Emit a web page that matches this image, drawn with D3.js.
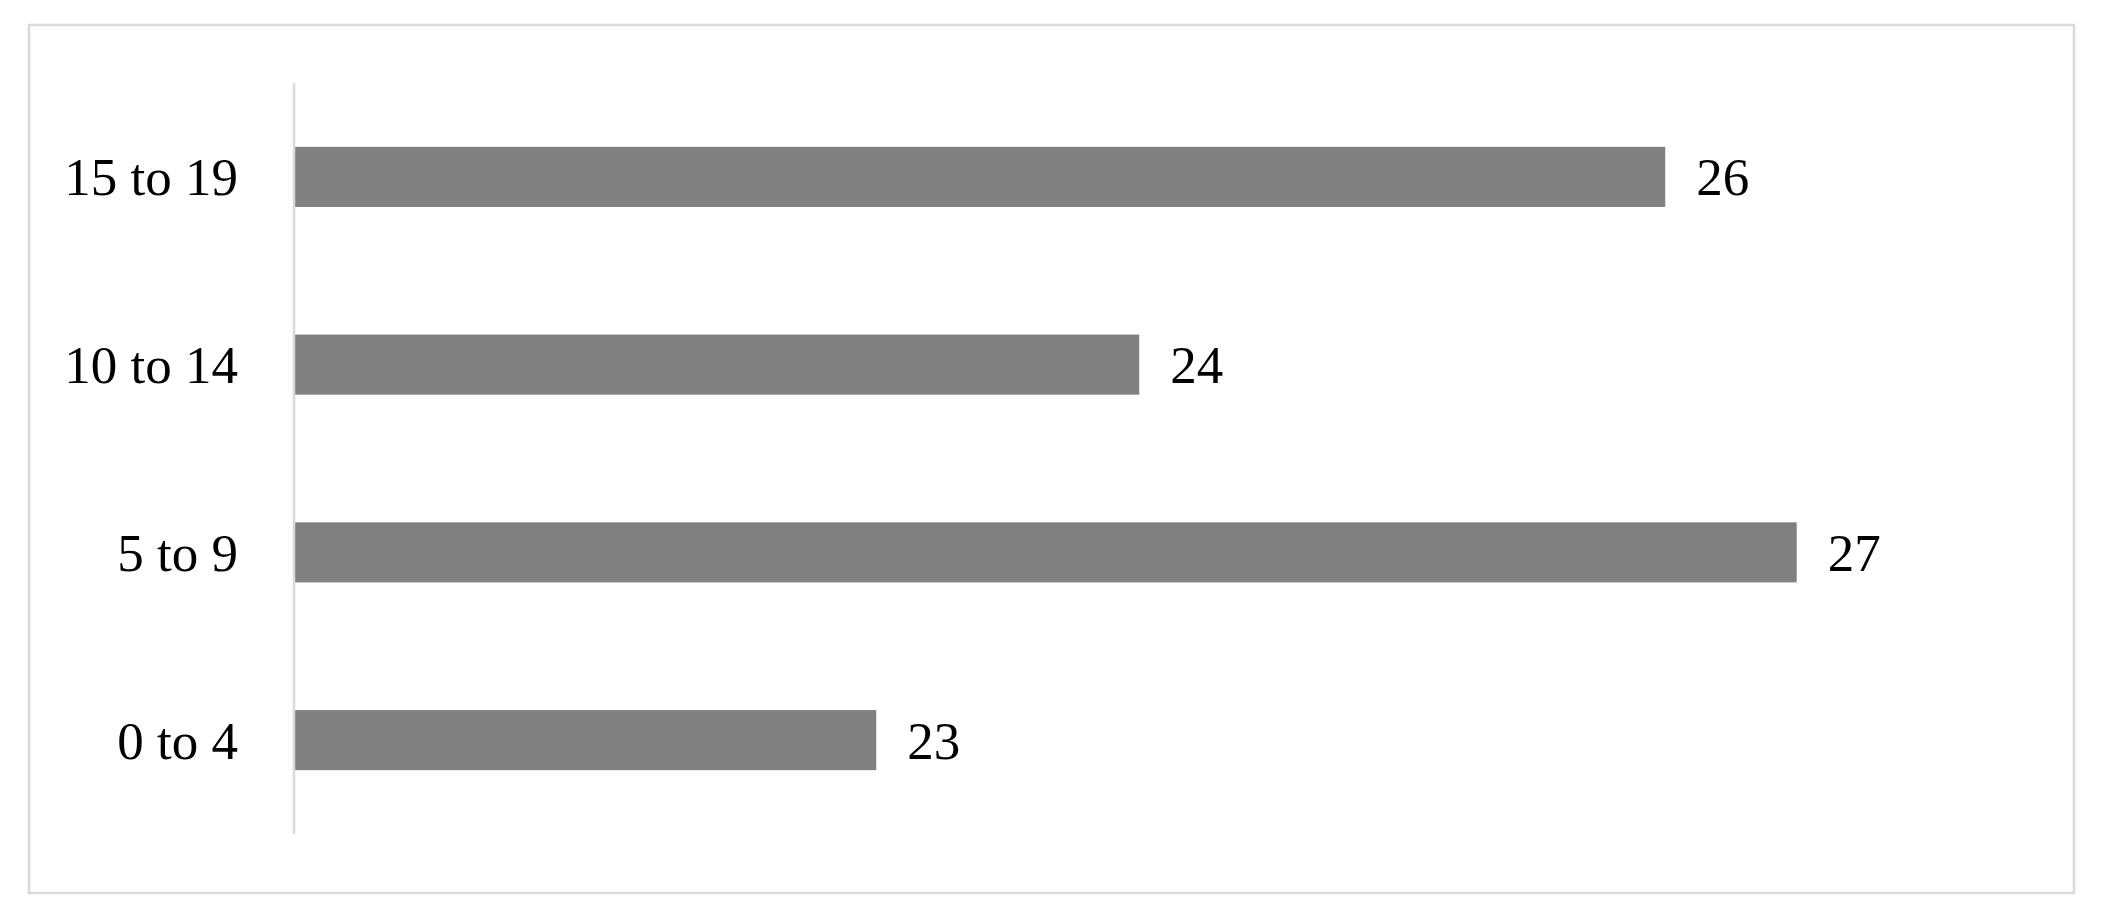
<!DOCTYPE html>
<html>
<head>
<meta charset="utf-8">
<script src="https://cdn.jsdelivr.net/npm/d3@7"></script>
<style>
  html, body { margin: 0; padding: 0; background: #fff; }
  svg { display: block; }
</style>
</head>
<body>
<svg id="chart" width="2105" height="922"></svg>
<script>
// Data (bottom to top order in the picture is 0 to 4 ... 15 to 19)
const categories = ["0 to 4", "5 to 9", "10 to 14", "15 to 19"];
const values = [23.0, 26.5, 24.0, 26.0];
const valueLabels = ["23", "27", "24", "26"];

const svg = d3.select("#chart");

// outer frame
svg.append("rect")
  .attr("x", 29).attr("y", 25)
  .attr("width", 2045).attr("height", 868)
  .attr("fill", "#fff")
  .attr("stroke", "#d9d9d9")
  .attr("stroke-width", 2.5);

const plot = { left: 295, top: 83, bottom: 834 };

const x = d3.scaleLinear()
  .domain([20.79, 26.79])
  .range([plot.left, plot.left + 6 * 263]);

// categories top to bottom: reversed order
const y = d3.scaleBand()
  .domain(categories.slice().reverse())
  .range([plot.top, plot.bottom])
  .paddingInner(0.68)
  .paddingOuter(0.34);

const font = "'Liberation Serif', 'Times New Roman', serif";

// bars
svg.append("g").selectAll("rect")
  .data(categories)
  .join("rect")
  .attr("x", x(x.domain()[0]))
  .attr("y", d => y(d))
  .attr("width", (d, i) => x(values[i]) - x(x.domain()[0]))
  .attr("height", y.bandwidth())
  .attr("fill", "#808080");

// value labels
svg.append("g").selectAll("text")
  .data(categories)
  .join("text")
  .attr("x", (d, i) => x(values[i]) + 31)
  .attr("y", d => y(d) + y.bandwidth() / 2)
  .attr("dy", "0.35em")
  .attr("font-family", font)
  .attr("font-size", 53)
  .attr("fill", "#000")
  .text((d, i) => valueLabels[i]);

// y axis
const yAxis = d3.axisLeft(y).tickSize(0).tickPadding(56);
const gy = svg.append("g")
  .attr("transform", `translate(${plot.left - 1},0)`)
  .call(yAxis);
gy.select(".domain")
  .attr("stroke", "#d9d9d9")
  .attr("stroke-width", 2.5)
  .attr("d", `M0,${plot.top}V${plot.bottom}`);
gy.selectAll(".tick text")
  .attr("font-family", font)
  .attr("font-size", 53)
  .attr("fill", "#000")
  .attr("dy", "0.35em");
</script>
</body>
</html>
